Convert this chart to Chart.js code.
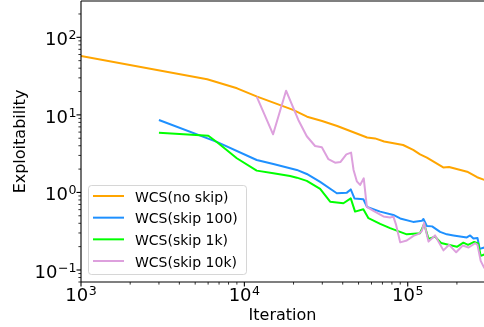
<!DOCTYPE html>
<html><head><meta charset="utf-8">
<script src="https://cdn.jsdelivr.net/npm/chart.js@4/dist/chart.umd.min.js"></script>
<style>html,body{margin:0;padding:0;background:#fff;overflow:hidden}#wrap{width:484px;height:327px}</style>
</head><body><div id="wrap"><canvas id="c" width="484" height="327"></canvas></div>
<script>
const seriesLabels = ['WCS(no skip)', 'WCS(skip 100)', 'WCS(skip 1k)', 'WCS(skip 10k)'];
const seriesColors = ['#FFA500', '#1E90FF', '#00FF00', '#DDA0DD'];

const iterNoSkip = [1000, 5920, 9020, 11970, 19870, 24200, 29900, 37000, 56400, 63100, 71700, 93700, 108000, 119000, 131000, 165000, 179000, 231000, 266000, 295000];
const exploitNoSkip = [57.4, 28.8, 22.0, 17.2, 11.6, 9.48, 8.35, 7.19, 5.11, 4.97, 4.54, 4.09, 3.53, 3.09, 2.81, 2.10, 2.13, 1.85, 1.57, 1.45];

const iterSkip100 = [3000, 6780, 11900, 15050, 20940, 24100, 29100, 36800, 42400, 44800, 47200, 53500, 56400, 67800, 81700, 89900, 108000, 122000, 124800, 130900, 141000, 157800, 173500, 190500, 230000, 241000, 252500, 267300, 275600, 295000];
const exploitSkip100 = [8.6, 4.48, 2.62, 2.33, 1.95, 1.73, 1.365, 0.977, 0.994, 1.094, 0.837, 0.817, 0.650, 0.566, 0.513, 0.462, 0.417, 0.430, 0.455, 0.370, 0.365, 0.310, 0.288, 0.279, 0.263, 0.279, 0.255, 0.259, 0.187, 0.195];

const iterSkip1k = [3000, 6020, 6930, 8990, 11900, 15050, 19050, 20940, 24100, 29100, 33500, 40400, 44800, 47600, 53500, 57500, 67800, 78000, 98700, 119000, 126000, 134000, 147000, 160000, 200000, 219000, 234000, 255000, 270000, 279600, 295000];
const exploitSkip1k = [5.90, 5.39, 4.31, 2.76, 1.91, 1.77, 1.63, 1.55, 1.41, 1.11, 0.760, 0.726, 0.837, 0.566, 0.608, 0.465, 0.393, 0.346, 0.288, 0.298, 0.393, 0.252, 0.269, 0.223, 0.199, 0.225, 0.211, 0.230, 0.220, 0.152, 0.159];

const iterSkip10k = [11900, 14990, 18000, 21400, 24100, 27100, 29800, 32700, 35900, 38800, 42100, 45000, 46600, 48800, 51100, 53800, 56200, 61700, 71000, 78000, 81700, 84900, 89900, 98700, 108400, 116600, 122000, 126000, 134000, 147000, 165400, 179200, 198000, 217000, 236000, 258600, 267300, 279600, 295000];
const exploitSkip10k = [17.2, 5.62, 20.5, 8.60, 5.30, 3.97, 3.82, 2.68, 2.42, 2.47, 3.10, 3.26, 1.95, 1.39, 1.25, 1.52, 0.650, 0.578, 0.491, 0.476, 0.488, 0.381, 0.227, 0.240, 0.275, 0.292, 0.319, 0.405, 0.232, 0.279, 0.179, 0.211, 0.169, 0.207, 0.195, 0.221, 0.211, 0.131, 0.105];

const xTickValues = [1e3, 1e4, 1e5];
const xTickExponents = ['3', '4', '5'];
const yTickValues = [0.1, 1, 10, 100];
const yTickExponents = ['\u22121', '0', '1', '2'];
const xAxisTitle = 'Iteration';
const yAxisTitle = 'Exploitability';

const FONT = '"DejaVu Sans", sans-serif';
const pts = (xs, ys) => xs.map((x, i) => ({x: x, y: ys[i]}));
const seriesData = [pts(iterNoSkip, exploitNoSkip), pts(iterSkip100, exploitSkip100), pts(iterSkip1k, exploitSkip1k), pts(iterSkip10k, exploitSkip10k)];

function minorTicks(lo, hi) {
  const out = [];
  for (let e = Math.floor(Math.log10(lo)); e <= Math.ceil(Math.log10(hi)); e++) {
    for (let m = 1; m <= 9; m++) {
      const v = m * Math.pow(10, e);
      if (v >= lo * 0.999 && v <= hi * 1.001) out.push({v: v, major: m === 1});
    }
  }
  return out;
}

const decor = {
  id: 'decor',
  afterDraw(chart) {
    const ctx = chart.ctx, a = chart.chartArea, xs = chart.scales.x, ys = chart.scales.y;
    ctx.save();
    ctx.strokeStyle = '#000';
    // spines
    ctx.lineWidth = 1.1;
    ctx.beginPath();
    ctx.moveTo(a.left, a.top); ctx.lineTo(a.right, a.top);
    ctx.moveTo(a.left, a.top); ctx.lineTo(a.left, a.bottom);
    ctx.moveTo(a.left, a.bottom); ctx.lineTo(a.right, a.bottom);
    ctx.stroke();
    // ticks
    minorTicks(ys.min, ys.max).forEach(t => {
      const y = ys.getPixelForValue(t.v);
      ctx.lineWidth = t.major ? 1.1 : 0.8;
      ctx.beginPath(); ctx.moveTo(a.left, y); ctx.lineTo(a.left - (t.major ? 4.5 : 2.6), y); ctx.stroke();
    });
    minorTicks(xs.min, xs.max).forEach(t => {
      const x = xs.getPixelForValue(t.v);
      ctx.lineWidth = t.major ? 1.1 : 0.8;
      ctx.beginPath(); ctx.moveTo(x, a.bottom); ctx.lineTo(x, a.bottom + (t.major ? 4.5 : 2.6)); ctx.stroke();
    });
    // tick labels
    ctx.fillStyle = '#000';
    ctx.textBaseline = 'alphabetic';
    const big = '18px ' + FONT, small = '12.6px ' + FONT;
    yTickValues.forEach((v, i) => {
      const y = ys.getPixelForValue(v);
      ctx.font = small; const we = ctx.measureText(yTickExponents[i]).width;
      const right = a.left - 4.5;
      ctx.textAlign = 'left'; ctx.fillText(yTickExponents[i], right - we, y + 2);
      ctx.font = big; ctx.textAlign = 'right'; ctx.fillText('10', right - we - 0.5, y + 8);
    });
    xTickValues.forEach((v, i) => {
      const x = xs.getPixelForValue(v);
      ctx.font = big; const wd = ctx.measureText('10').width;
      ctx.font = small; const we = ctx.measureText(xTickExponents[i]).width;
      const left = x - (wd + we + 0.5) / 2;
      ctx.font = big; ctx.textAlign = 'left'; ctx.fillText('10', left, 300.7);
      ctx.font = small; ctx.fillText(xTickExponents[i], left + wd + 0.5, 294.5);
    });
    // axis titles
    ctx.font = '16px ' + FONT;
    ctx.textAlign = 'center';
    ctx.fillText(xAxisTitle, (a.left + a.right) / 2, 320);
    ctx.save();
    ctx.translate(25, (a.top + a.bottom) / 2);
    ctx.rotate(-Math.PI / 2);
    ctx.fillText(yAxisTitle, 0, 0);
    ctx.restore();
    // legend
    ctx.beginPath();
    ctx.roundRect(88.5, 185.5, 158, 89, 3);
    ctx.fillStyle = 'rgba(255,255,255,0.8)'; ctx.fill();
    ctx.strokeStyle = 'rgba(204,204,204,0.8)'; ctx.lineWidth = 1; ctx.stroke();
    ctx.font = '14px ' + FONT; ctx.textAlign = 'left';
    seriesLabels.forEach((lab, i) => {
      const ry = 196 + i * 21.67;
      ctx.strokeStyle = seriesColors[i]; ctx.lineWidth = 2;
      ctx.beginPath(); ctx.moveTo(93, ry); ctx.lineTo(124, ry); ctx.stroke();
      ctx.fillStyle = '#000'; ctx.fillText(lab, 135, ry + 5.5);
    });
    ctx.restore();
  }
};

new Chart(document.getElementById('c'), {
  type: 'line',
  data: {
    datasets: seriesLabels.map((lab, i) => ({
      label: lab,
      data: seriesData[i],
      borderColor: seriesColors[i],
      backgroundColor: seriesColors[i],
      borderWidth: 2,
      pointRadius: 0,
      tension: 0,
      fill: false,
      borderJoinStyle: 'round',
      order: 3 - i
    }))
  },
  options: {
    responsive: false,
    devicePixelRatio: 1,
    animation: false,
    parsing: true,
    layout: {padding: {top: 1, left: 0, right: 0, bottom: 0}},
    plugins: {legend: {display: false}, tooltip: {enabled: false}},
    scales: {
      x: {type: 'logarithmic', min: 1000, max: 2.93e5,
          grid: {display: false}, border: {display: false}, ticks: {display: false},
          afterFit: s => { s.height = 45; }},
      y: {type: 'logarithmic', min: 0.07, max: 294,
          grid: {display: false}, border: {display: false}, ticks: {display: false},
          afterFit: s => { s.width = 81; }}
    }
  },
  plugins: [decor]
});
</script>
</body></html>
